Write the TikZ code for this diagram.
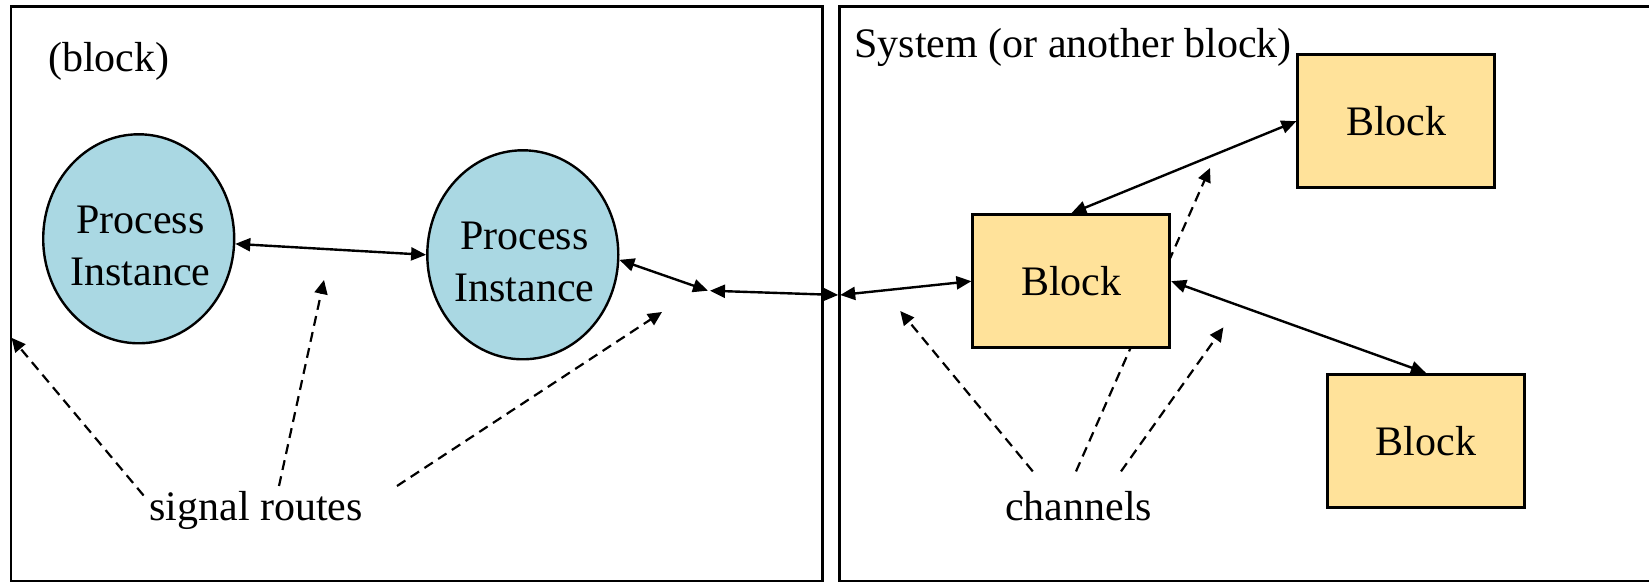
\documentclass[tikz,border=0pt]{standalone}
\usepackage{fontspec}
\setmainfont{Liberation Serif}
\usetikzlibrary{arrows.meta,shapes.geometric}

\definecolor{procfill}{HTML}{AAD8E3}
\definecolor{blockfill}{HTML}{FFE29A}

\tikzset{
  frame/.style={draw=black, line width=1.2pt},
  proc/.style={ellipse, draw=black, line width=1.2pt, fill=procfill,
    minimum width=95.5pt, minimum height=104.5pt, inner sep=0pt},
  blk/.style={rectangle, draw=black, line width=1.4pt, fill=blockfill,
    minimum width=98.5pt, minimum height=66.5pt, inner sep=0pt,
    font=\fontsize{21pt}{26pt}\selectfont},
  lbl/.style={inner sep=0pt, anchor=base west,
    font=\fontsize{21pt}{26pt}\selectfont},
  ptext/.style={inner sep=0pt, align=center,
    font=\fontsize{21pt}{26pt}\selectfont},
  link/.style={line width=1.2pt, {Triangle[length=7.5pt,width=6.5pt]}-{Triangle[length=7.5pt,width=6.5pt]}},
  route/.style={line width=1.1pt, dash pattern=on 5pt off 3.2pt,
    -{Triangle[length=7pt,width=6.5pt]}}
}

\begin{document}
\begin{tikzpicture}[x=0.5pt, y=-0.5pt]
  \clip (0,0) rectangle (1649,582);
  \fill[white] (0,0) rectangle (1649,582);

  % the two enclosing frames
  \draw[frame] (10.8,6.7) rectangle (822.5,581);
  \draw[frame] (839.5,6.7) rectangle (1700,581);

  % frame captions
  \node[lbl] (blocklbl) at (47.7,72) {(block)};
  \node[lbl] (syslbl) at (854,57.5) {System (or another block)};

  % channel running behind the middle block
  \coordinate (c2s) at (1076,471.4);
  \coordinate (c2e) at (1210,168);
  \draw[route] (c2s) -- (c2e);

  % process instances
  \node[proc] (p1) at (138.7,238.8) {};
  \node[ptext] (p1t) at (140.5,245.8) {Process\\Instance};
  \node[proc] (p2) at (522.8,254.8) {};
  \node[ptext] (p2t) at (524.5,261.8) {Process\\Instance};

  % blocks
  \node[blk] (bt) at (1396.3,121.2) {Block};
  \node[blk] (bm) at (1071.3,281.2) {Block};
  \node[blk] (bb) at (1425.9,440.7) {Block};

  % junctions on the frame boundary
  \coordinate (j1) at (709,290.7);
  \coordinate (j2) at (839.2,295);

  % signal routes and channels
  \draw[link] (p1.-3) -- (p2.180);
  \draw[link] (p2.-3) -- ([xshift=-0.5pt]j1);
  \draw[link] ([xshift=0.5pt]j1) -- ([xshift=-0.5pt]j2);
  \draw[link] ([xshift=0.5pt]j2) -- (bm.west);
  \draw[link] (bm.north) -- (bt.west);
  \draw[link] (bm.east) -- (bb.north);

  % annotation labels
  \node[lbl] (sig) at (149,520) {signal routes};
  \node[lbl] (chan) at (1004.7,520) {channels};

  % pointers from the labels
  \coordinate (s1s) at (143.6,495.5);
  \coordinate (s1e) at (11.5,337.8);
  \coordinate (s2s) at (279,486);
  \coordinate (s2e) at (324,280);
  \coordinate (s3s) at (397,486);
  \coordinate (s3e) at (662,312);
  \coordinate (c1s) at (1032.8,471.4);
  \coordinate (c1e) at (900.2,311);
  \coordinate (c3s) at (1121,471.4);
  \coordinate (c3e) at (1223.4,327.4);
  \draw[route] (s1s) -- (s1e);
  \draw[route] (s2s) -- (s2e);
  \draw[route] (s3s) -- (s3e);
  \draw[route] (c1s) -- (c1e);
  \draw[route] (c3s) -- (c3e);
\end{tikzpicture}
\end{document}
